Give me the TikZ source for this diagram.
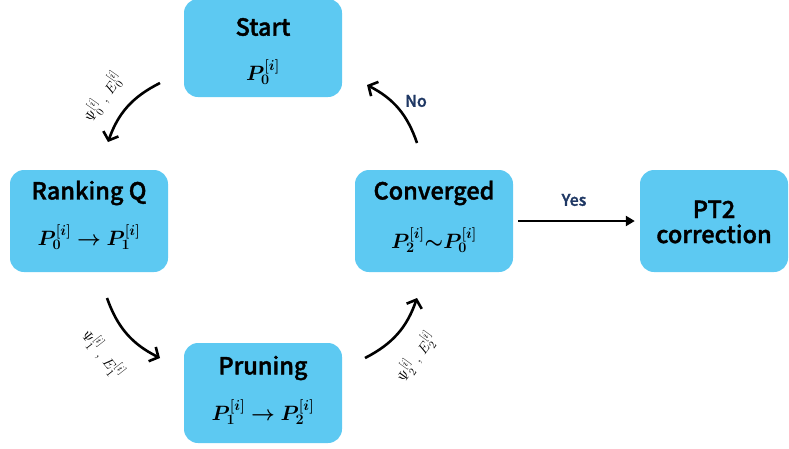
\documentclass[tikz,border=0pt]{standalone}
\usepackage{fontspec}
\usepackage{bm}
\setmainfont{Noto Sans CJK SC}[UprightFont={* Medium}, BoldFont={* Bold}]
\newfontfamily\headfont{Noto Sans CJK SC}[UprightFont={* Medium}, UprightFeatures={FakeBold=1.6}]
\usetikzlibrary{arrows.meta}
\definecolor{boxblue}{HTML}{5DC9F2}
\definecolor{navy}{HTML}{1F3864}
\begin{document}
\begin{tikzpicture}[x=1pt,y=-1pt,
  stage/.style={fill=boxblue, rounded corners=14pt, minimum width=158pt,
    minimum height=100pt, inner sep=0pt},
  title/.style={font=\headfont\fontsize{23.5}{25}\selectfont, inner sep=0pt},
  formula/.style={font=\fontsize{20}{24}\selectfont, inner sep=0pt},
  flow/.style={line width=2.6pt, -{Straight Barb[length=7pt,width=16pt]}},
  yesarrow/.style={line width=2.4pt, -{Triangle[length=9pt,width=10pt]}},
  tag/.style={font=\headfont\fontsize{16}{19}\selectfont, text=navy},
  side/.style={font=\fontsize{15}{17}\selectfont, inner sep=0pt}]
\useasboundingbox (0,0) rectangle (789,448);

% process stages
\node[stage, minimum height=98pt] (start) at (263,48) {};
\node[title] (startT) at (263,27) {Start};
\node[formula] (startF) at (263,72) {$\bm{P_0^{[i]}}$};

\node[stage, minimum height=102pt] (rank) at (89,221) {};
\node[title] (rankT) at (89,193) {Ranking Q};
\node[formula] (rankF) at (89,237) {$\bm{P_0^{[i]}\rightarrow P_1^{[i]}}$};

\node[stage, minimum height=102pt] (conv) at (434,221) {};
\node[title] (convT) at (434,193) {Converged};
\node[formula] (convF) at (434,240) {$\bm{P_2^{[i]}{\sim}P_0^{[i]}}$};

\node[stage] (prune) at (263,393) {};
\node[title] (pruneT) at (263,368) {Pruning};
\node[formula] (pruneF) at (263,412) {$\bm{P_1^{[i]}\rightarrow P_2^{[i]}}$};

\node[stage, minimum width=148pt, minimum height=102pt] (pt2) at (714,221) {};
\node[title, align=center] (pt2T) at (714,222) {PT2\\correction};

% loop connectors
\coordinate (a1s) at (160,83);  \coordinate (a1e) at (108,142);
\coordinate (a2s) at (107,298); \coordinate (a2e) at (160,358);
\coordinate (a3s) at (365,358); \coordinate (a3e) at (417,298);
\coordinate (a4s) at (417,143); \coordinate (a4e) at (367,85);

\draw[flow] (a1s) to[bend right=22] (a1e);
\draw[flow] (a2s) to[bend right=22] (a2e);
\draw[flow] (a3s) to[bend right=22] (a3e);
\draw[flow] (a4s) to[bend right=22] (a4e);

\draw[yesarrow, shorten <=5pt, shorten >=5pt] (conv) -- (pt2);

% labels
\node[tag] (yes) at (574,200) {Yes};
\node[tag] (no) at (416,101) {No};
\node[side, rotate=55] (l1) at (103,97) {$\Psi_0^{[i]}\ ,\ E_0^{[i]}$};
\node[side, rotate=-52] (l2) at (103,354) {$\Psi_1^{[i]}\ ,\ E_1^{[i]}$};
\node[side, rotate=54] (l3) at (416,357) {$\Psi_2^{[i]}\ ,\ E_2^{[i]}$};
\end{tikzpicture}
\end{document}
